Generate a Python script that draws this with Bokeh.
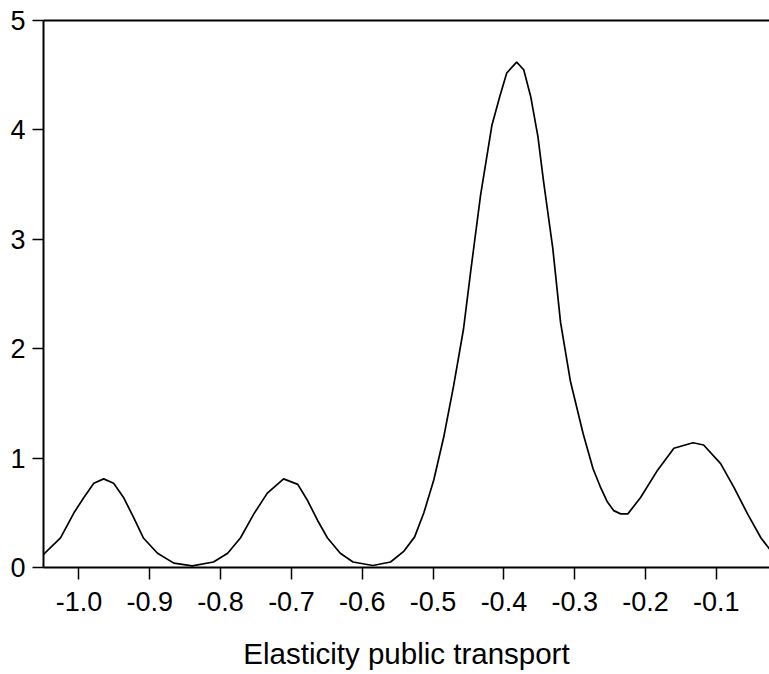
from bokeh.plotting import figure
from bokeh.models import LinearAxis, FixedTicker, Range1d
from bokeh.embed import file_html
from bokeh.resources import INLINE

x_vals = [-1.05, -1.026, -1.007, -0.993, -0.979, -0.965, -0.951, -0.937, -0.923, -0.909,
          -0.889, -0.866, -0.84, -0.81, -0.79, -0.772, -0.753, -0.734, -0.711, -0.691,
          -0.677, -0.663, -0.649, -0.631, -0.613, -0.585, -0.56, -0.541, -0.526, -0.513,
          -0.499, -0.485, -0.471, -0.457, -0.447, -0.433, -0.417, -0.406, -0.396, -0.382,
          -0.372, -0.362, -0.352, -0.344, -0.331, -0.320, -0.306, -0.288, -0.274, -0.264,
          -0.254, -0.245, -0.235, -0.225, -0.207, -0.183, -0.160, -0.133, -0.118, -0.094,
          -0.075, -0.056, -0.037, -0.024]
density = [0.12, 0.27, 0.50, 0.64, 0.77, 0.81, 0.77, 0.64, 0.46, 0.27,
           0.13, 0.04, 0.015, 0.05, 0.13, 0.27, 0.49, 0.68, 0.81, 0.76,
           0.61, 0.43, 0.27, 0.13, 0.05, 0.018, 0.05, 0.15, 0.28, 0.50,
           0.80, 1.19, 1.66, 2.18, 2.70, 3.40, 4.04, 4.30, 4.52, 4.62,
           4.55, 4.30, 3.94, 3.53, 2.92, 2.24, 1.70, 1.22, 0.90, 0.74,
           0.60, 0.52, 0.49, 0.49, 0.64, 0.89, 1.09, 1.14, 1.12, 0.95,
           0.73, 0.49, 0.27, 0.16]

x_ticks = [-1.0, -0.9, -0.8, -0.7, -0.6, -0.5, -0.4, -0.3, -0.2, -0.1]
y_ticks = [0, 1, 2, 3, 4, 5]
x_label = "Elasticity public transport"

FONT = "Liberation Sans"

p = figure(width=769, height=674, output_backend="svg", toolbar_location=None,
           x_range=Range1d(-1.05, -0.025), y_range=Range1d(0, 5),
           min_border_left=43, min_border_right=0, min_border_top=20, min_border_bottom=107)
p.outline_line_color = None
p.xgrid.visible = False
p.ygrid.visible = False
p.background_fill_color = "white"
p.border_fill_color = "white"

p.line(x_vals, density, line_color="black", line_width=1.7)

xa = p.xaxis[0]
xa.ticker = FixedTicker(ticks=x_ticks)
xa.major_label_overrides = {t: f"{t:.1f}" for t in x_ticks}
xa.axis_label = x_label
xa.axis_label_text_font = FONT
xa.axis_label_text_font_size = "29.5px"
xa.axis_label_text_font_style = "normal"
xa.axis_label_text_color = "black"
xa.axis_label_standoff = 23
xa.major_label_text_font = FONT
xa.major_label_text_font_size = "27px"
xa.major_label_text_color = "black"
xa.major_label_standoff = 12
xa.major_tick_out = 12
xa.major_tick_in = 0
xa.minor_tick_line_color = None
xa.axis_line_width = 2
xa.major_tick_line_width = 1.5
xa.axis_line_color = "black"
xa.major_tick_line_color = "black"

ya = p.yaxis[0]
ya.ticker = FixedTicker(ticks=y_ticks)
ya.major_label_text_font = FONT
ya.major_label_text_font_size = "27px"
ya.major_label_text_color = "black"
ya.major_label_standoff = 7
ya.major_tick_out = 11
ya.major_tick_in = 0
ya.minor_tick_line_color = None
ya.axis_line_width = 2
ya.major_tick_line_width = 1.5
ya.axis_line_color = "black"
ya.major_tick_line_color = "black"

top = LinearAxis(ticker=FixedTicker(ticks=[]), major_label_text_font_size="0px",
                 major_tick_line_color=None, minor_tick_line_color=None,
                 axis_line_width=2, axis_line_color="black", major_label_standoff=0)
p.add_layout(top, "above")

open("out.html", "w").write(file_html(p, INLINE))
